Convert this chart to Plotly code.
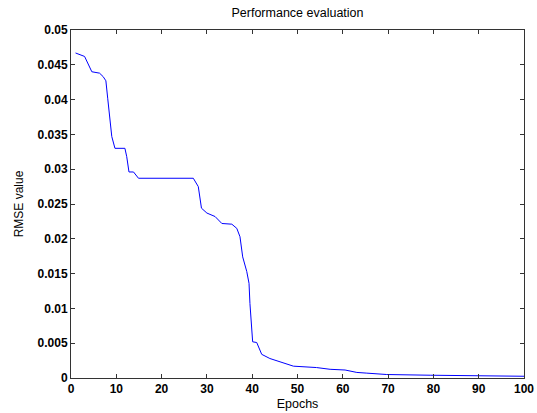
import plotly.graph_objects as go

epochs = [1, 3, 4.6, 6.3, 7.1, 7.7, 8.1, 8.6, 9.0, 9.7, 11.9, 12.3, 12.8, 13.8, 14.9,
          27.0, 27.7, 28.1, 28.8, 30.0, 31.8, 33.3, 35.5, 36.6, 37.3, 37.9, 38.8, 39.3,
          39.5, 39.9, 40.1, 41.0, 42.1, 43.9, 46.1, 49.1, 54.2, 57.2, 60.5, 63.1, 65.3,
          69.7, 79.3, 100]
rmse = [0.0467, 0.0462, 0.0440, 0.0438, 0.0433, 0.0427, 0.0402, 0.0371, 0.0347, 0.0330,
        0.0330, 0.0318, 0.0296, 0.0296, 0.0287, 0.0287, 0.0280, 0.0275, 0.0244, 0.0237,
        0.0232, 0.0222, 0.0221, 0.0215, 0.0203, 0.0174, 0.0153, 0.0136, 0.0107, 0.0064,
        0.0052, 0.0051, 0.0034, 0.0028, 0.0023, 0.0017, 0.0015, 0.00125, 0.00115, 0.0008,
        0.0007, 0.0005, 0.0004, 0.00025]

x_ticks = [0, 10, 20, 30, 40, 50, 60, 70, 80, 90, 100]
y_ticks = [0, 0.005, 0.01, 0.015, 0.02, 0.025, 0.03, 0.035, 0.04, 0.045, 0.05]
y_labels = ["0", "0.005", "0.01", "0.015", "0.02", "0.025", "0.03", "0.035", "0.04", "0.045", "0.05"]

FONT = "Liberation Sans, Arial"

fig = go.Figure(go.Scatter(x=epochs, y=rmse, mode="lines",
                           line=dict(color="#0000ff", width=1)))

axis_common = dict(showgrid=False, zeroline=False, showline=True, linecolor="#333333",
                   linewidth=1, mirror="ticks", ticks="inside", ticklen=4,
                   tickcolor="#333333", automargin=False,
                   tickfont=dict(family=FONT, size=12, color="black"))

fig.update_layout(
    width=537, height=413,
    margin=dict(l=71, r=13, t=30, b=35),
    paper_bgcolor="white", plot_bgcolor="white",
    showlegend=False,
    title=dict(text="Performance evaluation", x=0.5, xanchor="center",
               xref="paper", y=0.97, yanchor="middle",
               font=dict(family=FONT, size=12.5, color="black")),
    xaxis=dict(range=[0, 100], tickvals=x_ticks,
               ticktext=["<b>%d</b>" % v for v in x_ticks],
               title=dict(text="Epochs", standoff=3,
                          font=dict(family=FONT, size=12.5, color="black")),
               **axis_common),
    yaxis=dict(range=[0, 0.05], tickvals=y_ticks, ticktext=["<b>" + t + "</b>" for t in y_labels],
               title=dict(text="RMSE value", standoff=11,
                          font=dict(family=FONT, size=12, color="black")),
               **axis_common),
)

fig.write_html("out.html", config={"displayModeBar": False},
               post_script="document.body.style.margin='0';document.body.style.overflow='hidden';")
